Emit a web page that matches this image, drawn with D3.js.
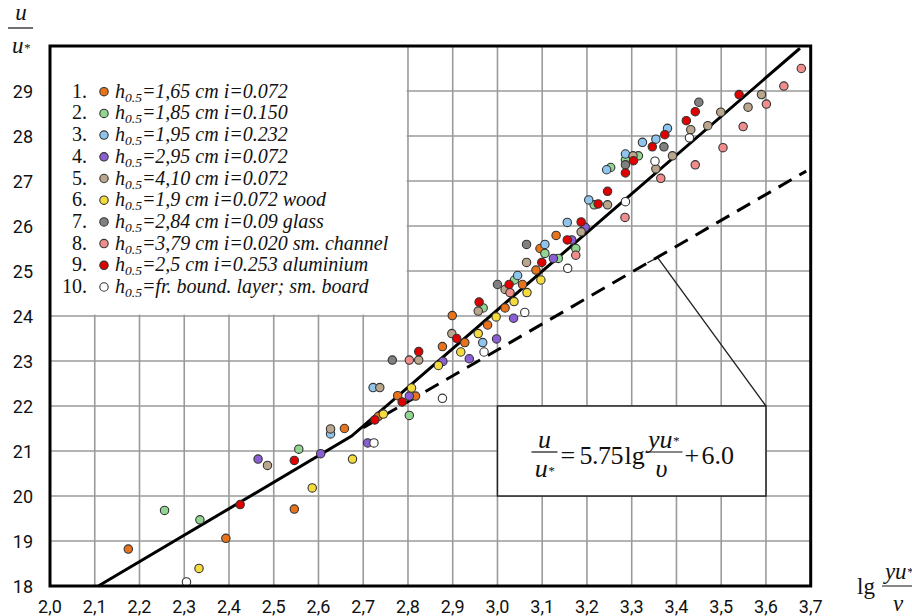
<!DOCTYPE html>
<html><head><meta charset="utf-8">
<script src="https://cdn.jsdelivr.net/npm/d3@7/dist/d3.min.js"></script>
<style>body{margin:0;background:#fff} svg{display:block}</style>
</head><body>
<svg id="c" width="912" height="616"></svg>
<script>
// ---------- data ----------
const xTickValues = [2.0,2.1,2.2,2.3,2.4,2.5,2.6,2.7,2.8,2.9,3.0,3.1,3.2,3.3,3.4,3.5,3.6,3.7];
const xTickLabels = ["2,0","2,1","2,2","2,3","2,4","2,5","2,6","2,7","2,8","2,9","3,0","3,1","3,2","3,3","3,4","3,5","3,6","3,7"];
const yTickValues = [18,19,20,21,22,23,24,25,26,27,28,29];
const yTickLabels = ["18","19","20","21","22","23","24","25","26","27","28","29"];

const seriesNumbers = ["1.","2.","3.","4.","5.","6.","7.","8.","9.","10."];
const seriesLabels = ["=1,65 cm i=0.072","=1,85 cm i=0.150","=1,95 cm i=0.232","=2,95 cm i=0.072","=4,10 cm i=0.072",
  "=1,9 cm i=0.072 wood","=2,84 cm i=0.09 glass","=3,79 cm i=0.020 sm. channel","=2,5 cm i=0.253 aluminium","=fr. bound. layer; sm. board"];
const seriesColors = ["#e8731a","#92d492","#8fc4ec","#8a5fd4","#b9a68d","#f4dc3c","#808080","#f08c8c","#e00000","#ffffff"];

const s1 = [[2.175,18.82],[2.393,19.06],[2.546,19.71],[2.658,21.50],[2.734,21.77],[2.777,22.23],[2.817,22.22],[2.877,23.32],[2.927,23.41],[2.899,24.01],[2.978,23.80],[3.017,24.18],[3.056,24.70],[3.086,25.02],[3.095,25.50],[3.131,25.79]];
const s2 = [[2.256,19.68],[2.335,19.47],[2.556,21.04],[2.803,21.79],[2.968,24.18],[3.038,24.80],[3.106,25.39],[3.136,25.28],[3.175,25.50],[3.216,26.47],[3.253,27.30],[3.286,27.47],[3.315,27.56]];
const s3 = [[2.627,21.38],[2.722,22.41],[2.967,23.41],[3.045,24.90],[3.106,25.59],[3.156,26.08],[3.204,26.58],[3.244,27.25],[3.286,27.60],[3.324,27.86],[3.354,27.93],[3.380,28.17]];
const s4 = [[2.465,20.82],[2.605,20.94],[2.710,21.18],[2.803,22.22],[2.878,22.99],[2.937,23.05],[2.998,23.49],[3.036,23.95],[3.125,25.28],[3.166,25.69],[3.196,25.97]];
const s5 = [[2.486,20.68],[2.627,21.49],[2.737,22.41],[2.824,23.02],[2.898,23.61],[2.957,24.11],[3.017,24.59],[3.065,25.19],[3.187,25.87],[3.246,26.47],[3.303,27.56],[3.354,27.27],[3.391,27.56],[3.432,28.14],[3.470,28.23],[3.499,28.53],[3.560,28.64],[3.590,28.92]];
const s6 = [[2.333,18.39],[2.586,20.18],[2.676,20.82],[2.745,21.82],[2.808,22.40],[2.868,22.90],[2.918,23.20],[2.957,23.61],[2.997,23.98],[3.037,24.32],[3.066,24.52],[3.097,24.80]];
const s7 = [[2.765,23.02],[3.000,24.70],[3.065,25.59],[3.286,27.36],[3.372,27.76],[3.450,28.75]];
const s8 = [[2.803,23.02],[3.028,24.52],[3.175,25.35],[3.285,26.19],[3.365,27.06],[3.442,27.36],[3.504,27.74],[3.549,28.21],[3.601,28.71],[3.640,29.11],[3.679,29.50]];
const s9 = [[2.425,19.81],[2.546,20.79],[2.726,21.69],[2.787,22.09],[2.824,23.21],[2.909,23.50],[2.959,24.31],[3.026,24.70],[3.099,25.19],[3.156,25.69],[3.187,26.09],[3.225,26.49],[3.246,26.77],[3.286,27.18],[3.304,27.45],[3.346,27.76],[3.374,28.03],[3.422,28.34],[3.442,28.54],[3.540,28.92]];
const s10 = [[2.305,18.09],[2.724,21.18],[2.877,22.17],[2.970,23.20],[3.061,24.08],[3.157,25.06],[3.286,26.54],[3.352,27.44],[3.429,27.96]];

const solidLine = [[2.108,18.0],[2.674,21.33],[3.676,29.95]];
const dashedLine = [[2.70,21.52],[3.69,27.22]];
const leaderLine = [[3.335,25.18],[3.358,25.30],[3.60,22.0]];
const formulaBox = [[3.0,22.0],[3.6,20.0]];
const legendBox = [[2.0,30.0],[2.797,24.03]];

// ---------- chart ----------
const allSeries = [s1,s2,s3,s4,s5,s6,s7,s8,s9,s10];
const svg = d3.select("#c");
const x = d3.scaleLinear().domain([2.0,3.7]).range([50,810.7]);
const y = d3.scaleLinear().domain([18,30]).range([586,46]);
const serif = "'Liberation Serif','Times New Roman',serif";
const sans = "Roboto, 'Liberation Sans', sans-serif";

// grid
const grid = svg.append("g").attr("stroke","#9a9a9a").attr("stroke-width",1.6);
grid.selectAll("line.v").data(xTickValues.slice(1,-1)).enter().append("line")
  .attr("x1",d=>x(d)).attr("x2",d=>x(d)).attr("y1",y(30)).attr("y2",y(18));
grid.selectAll("line.h").data(yTickValues.slice(1)).enter().append("line")
  .attr("x1",x(2.0)).attr("x2",x(3.7)).attr("y1",d=>y(d)).attr("y2",d=>y(d));

// legend background
svg.append("rect").attr("x",x(legendBox[0][0])).attr("y",y(legendBox[0][1]))
  .attr("width",x(legendBox[1][0])-x(legendBox[0][0])).attr("height",y(legendBox[1][1])-y(legendBox[0][1]))
  .attr("fill","#fff");

// formula box
svg.append("rect").attr("x",x(formulaBox[0][0])).attr("y",y(formulaBox[0][1]))
  .attr("width",x(formulaBox[1][0])-x(formulaBox[0][0])).attr("height",y(formulaBox[1][1])-y(formulaBox[0][1]))
  .attr("fill","#fff").attr("stroke","#222").attr("stroke-width",1.5);

const line = d3.line().x(d=>x(d[0])).y(d=>y(d[1]));
svg.append("path").attr("d",line(leaderLine)).attr("fill","none").attr("stroke","#222").attr("stroke-width",1.3);
svg.append("path").attr("d",line(dashedLine)).attr("fill","none").attr("stroke","#000").attr("stroke-width",3)
  .attr("stroke-dasharray","15,9");
svg.append("path").attr("d",line(solidLine)).attr("fill","none").attr("stroke","#000").attr("stroke-width",3);

// points
allSeries.forEach((s,i)=>{
  svg.append("g").selectAll("circle").data(s).enter().append("circle")
    .attr("cx",d=>x(d[0])).attr("cy",d=>y(d[1])).attr("r",4.2)
    .attr("fill",seriesColors[i]).attr("stroke","#333").attr("stroke-width",1.1);
});

// frame
svg.append("rect").attr("x",x(2.0)).attr("y",y(30)).attr("width",x(3.7)-x(2.0)).attr("height",y(18)-y(30))
  .attr("fill","none").attr("stroke","#000").attr("stroke-width",3);

// tick labels
svg.append("g").selectAll("text").data(yTickValues).enter().append("text")
  .attr("x",33).attr("y",d=>y(d)+6.5).attr("text-anchor","end")
  .attr("font-family",sans).attr("font-size",18).attr("fill","#111")
  .text((d,i)=>yTickLabels[i]);
svg.append("g").selectAll("text").data(xTickValues).enter().append("text")
  .attr("x",d=>x(d)).attr("y",613).attr("text-anchor","middle")
  .attr("font-family",sans).attr("font-size",18).attr("fill","#111")
  .text((d,i)=>xTickLabels[i]);

// legend
const lg = svg.append("g");
seriesLabels.forEach((lab,i)=>{
  const cy = 91.7 + i*21.7;
  lg.append("text").attr("x",87).attr("y",cy+6).attr("text-anchor","end")
    .attr("font-family",serif).attr("font-size",20).attr("fill","#111").text(seriesNumbers[i]);
  lg.append("circle").attr("cx",104).attr("cy",cy).attr("r",4.2)
    .attr("fill",seriesColors[i]).attr("stroke","#333").attr("stroke-width",1.1);
  const t = lg.append("text").attr("x",115).attr("y",cy+6)
    .attr("font-family",serif).attr("font-size",20).attr("font-style","italic").attr("fill","#111");
  t.append("tspan").text("h");
  t.append("tspan").attr("font-size",13.5).attr("dy",4).text("0.5");
  t.append("tspan").attr("dy",-4).text(lab);
});

// y axis title
const yt = svg.append("g").attr("font-family",serif).attr("font-style","italic").attr("fill","#111");
yt.append("text").attr("x",21).attr("y",20).attr("text-anchor","middle").attr("font-size",23).text("u");
yt.append("line").attr("x1",8).attr("x2",33).attr("y1",28).attr("y2",28).attr("stroke","#111").attr("stroke-width",1.2);
const yd = yt.append("text").attr("x",21).attr("y",53).attr("text-anchor","middle").attr("font-size",23);
yd.append("tspan").text("u");
yd.append("tspan").attr("font-size",13).attr("dy",-1).text("*");

// x axis title
const xt = svg.append("g").attr("font-family",serif).attr("fill","#111");
xt.append("text").attr("x",857).attr("y",594).attr("font-size",23).text("lg");
const xn = xt.append("text").attr("x",899).attr("y",579).attr("text-anchor","middle").attr("font-size",23).attr("font-style","italic");
xn.append("tspan").text("yu");
xn.append("tspan").attr("font-size",13).attr("dy",-3).text("*");
xt.append("line").attr("x1",882).attr("x2",916).attr("y1",586).attr("y2",586).attr("stroke","#111").attr("stroke-width",1.2);
xt.append("text").attr("x",898).attr("y",611).attr("text-anchor","middle").attr("font-size",23).attr("font-style","italic").text("ν");

// formula
const bx = x(formulaBox[0][0]), by = y(formulaBox[0][1]);
const f = svg.append("g").attr("font-family",serif).attr("fill","#111").attr("font-size",26);
f.append("text").attr("x",bx+47).attr("y",by+42).attr("text-anchor","middle").attr("font-style","italic").text("u");
f.append("line").attr("x1",bx+34).attr("x2",bx+60).attr("y1",by+46).attr("y2",by+46).attr("stroke","#111").attr("stroke-width",1.2);
const fd = f.append("text").attr("x",bx+47).attr("y",by+71).attr("text-anchor","middle").attr("font-style","italic");
fd.append("tspan").text("u"); fd.append("tspan").attr("font-size",13).attr("dy",-2).text("*");
f.append("text").attr("x",bx+63).attr("y",by+58).text("=");
f.append("text").attr("x",bx+82).attr("y",by+58).attr("textLength",44).text("5.75");
f.append("text").attr("x",bx+127).attr("y",by+58).text("lg");
const fn = f.append("text").attr("x",bx+166).attr("y",by+42).attr("text-anchor","middle").attr("font-style","italic");
fn.append("tspan").text("yu"); fn.append("tspan").attr("font-size",13).attr("dy",-3).text("*");
f.append("line").attr("x1",bx+148).attr("x2",bx+185).attr("y1",by+46).attr("y2",by+46).attr("stroke","#111").attr("stroke-width",1.2);
f.append("text").attr("x",bx+164).attr("y",by+71).attr("text-anchor","middle").attr("font-style","italic").text("υ");
f.append("text").attr("x",bx+187).attr("y",by+58).text("+");
f.append("text").attr("x",bx+204).attr("y",by+58).text("6.0");
</script>
</body></html>
